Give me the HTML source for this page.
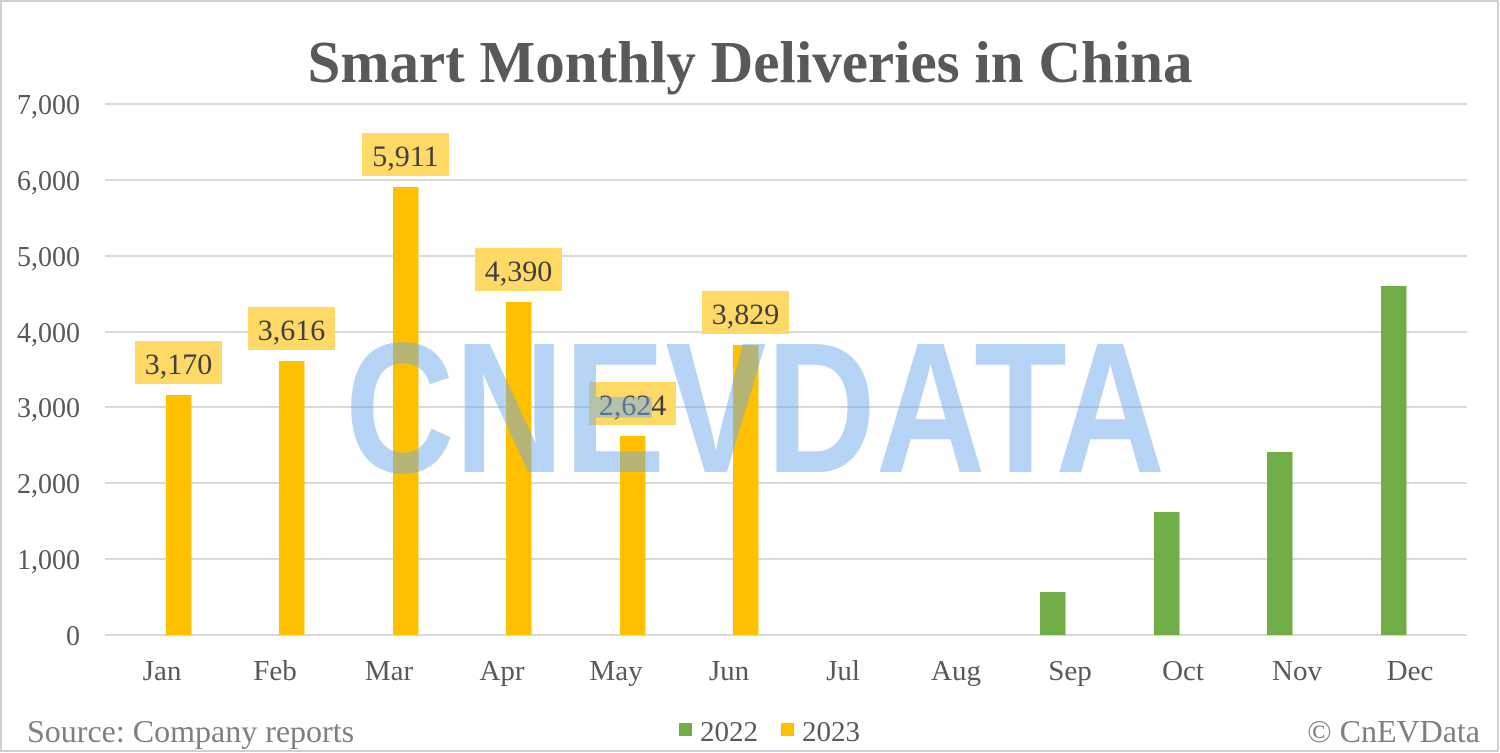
<!DOCTYPE html>
<html><head><meta charset="utf-8"><style>
html,body{margin:0;padding:0;background:#fff;}
svg{display:block;font-family:"Liberation Serif",serif;}
</style></head><body>
<svg width="1500" height="753" viewBox="0 0 1500 753" xmlns="http://www.w3.org/2000/svg">
<rect x="1" y="1" width="1497" height="750" fill="#fff" stroke="#d0d0d0" stroke-width="2"/>
<text x="750" y="82" text-anchor="middle" font-size="59" font-weight="bold" fill="#595959">Smart Monthly Deliveries in China</text>
<g stroke="#d9d9d9" stroke-width="2">
<line x1="105" x2="1467" y1="104" y2="104"/>
<line x1="105" x2="1467" y1="180" y2="180"/>
<line x1="105" x2="1467" y1="256" y2="256"/>
<line x1="105" x2="1467" y1="332" y2="332"/>
<line x1="105" x2="1467" y1="407" y2="407"/>
<line x1="105" x2="1467" y1="483" y2="483"/>
<line x1="105" x2="1467" y1="559" y2="559"/>
<line x1="105" x2="1467" y1="635" y2="635"/>
</g>
<g font-size="28" fill="#595959" text-anchor="end">
<text x="80" y="114">7,000</text>
<text x="80" y="190">6,000</text>
<text x="80" y="266">5,000</text>
<text x="80" y="342">4,000</text>
<text x="80" y="417">3,000</text>
<text x="80" y="493">2,000</text>
<text x="80" y="569">1,000</text>
<text x="80" y="645">0</text>
</g>
<g font-size="29" fill="#595959" text-anchor="middle">
<text x="162" y="680">Jan</text><text x="275" y="680">Feb</text><text x="389" y="680">Mar</text>
<text x="502" y="680">Apr</text><text x="616" y="680">May</text><text x="729" y="680">Jun</text>
<text x="843" y="680">Jul</text><text x="956" y="680">Aug</text><text x="1070" y="680">Sep</text>
<text x="1183" y="680">Oct</text><text x="1297" y="680">Nov</text><text x="1410" y="680">Dec</text>
</g>
<g fill="#ffc000">
<rect x="166" y="395" width="25.5" height="240"/>
<rect x="279" y="361" width="25.5" height="274"/>
<rect x="393" y="187" width="25.5" height="448"/>
<rect x="506" y="302" width="25.5" height="333"/>
<rect x="620" y="436" width="25.5" height="199"/>
<rect x="733" y="345" width="25.5" height="290"/>
</g>
<g fill="#70ad47">
<rect x="1040" y="592" width="25.5" height="43"/>
<rect x="1154" y="512" width="25.5" height="123"/>
<rect x="1267" y="452" width="25.5" height="183"/>
<rect x="1381" y="286" width="25.5" height="349"/>
</g>
<g fill="#ffd966">
<rect x="135" y="341" width="87" height="43"/>
<rect x="248" y="307" width="87" height="43"/>
<rect x="362" y="133" width="87" height="43"/>
<rect x="475" y="248" width="87" height="43"/>
<rect x="589" y="382" width="87" height="43"/>
<rect x="702" y="291" width="87" height="43"/>
</g>
<g font-size="30" fill="#404040" text-anchor="middle">
<text x="178.5" y="374">3,170</text>
<text x="291.5" y="340">3,616</text>
<text x="405.5" y="166">5,911</text>
<text x="518.5" y="281">4,390</text>
<text x="632.5" y="415">2,624</text>
<text x="745.5" y="324">3,829</text>
</g>
<text x="345" y="472" font-family="Liberation Sans,sans-serif" font-weight="bold" font-size="186" textLength="820" lengthAdjust="spacingAndGlyphs" fill="rgb(110,170,235)" fill-opacity="0.5">CNEVDATA</text>
<text x="27" y="742" font-size="32" fill="#7f7f7f">Source: Company reports</text>
<rect x="679" y="723" width="13" height="13" fill="#70ad47"/>
<text x="700" y="741" font-size="29" fill="#595959">2022</text>
<rect x="781" y="723" width="13" height="13" fill="#ffc000"/>
<text x="802" y="741" font-size="29" fill="#595959">2023</text>
<text x="1480" y="742" font-size="32" fill="#7f7f7f" text-anchor="end">© CnEVData</text>
</svg>
</body></html>
